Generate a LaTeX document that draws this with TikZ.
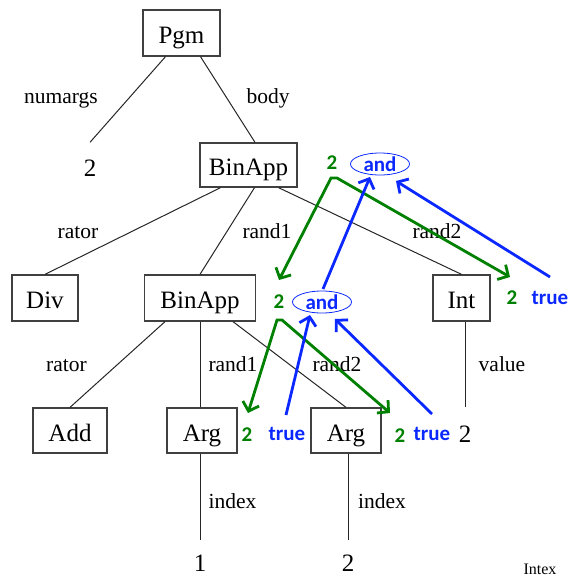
\documentclass[tikz,border=0pt]{standalone}
\usepackage{fontspec}
\setmainfont{Liberation Serif}
\newfontfamily\calfont{Carlito}
\usetikzlibrary{arrows.meta,shapes.geometric,calc}
\definecolor{ggreen}{RGB}{0,128,0}
\definecolor{bblue}{RGB}{10,40,255}
\begin{document}
\begin{tikzpicture}[x=1pt,y=-1pt,
  box/.style={draw=black!75, line width=1.3pt, font=\fontsize{25}{30}\selectfont, minimum height=45pt, inner sep=0pt, text height=21pt, text depth=0pt},
  lbl/.style={font=\fontsize{21.5}{26}\selectfont, inner sep=0pt, anchor=base},
  leaf/.style={font=\fontsize{25}{30}\selectfont, inner sep=0pt, text height=17pt, text depth=0pt},
  edge/.style={draw=black!85, line width=1pt},
  gtxt/.style={text=ggreen, font=\calfont\bfseries\fontsize{21}{25}\selectfont, inner sep=0pt},
  btxt/.style={text=bblue, font=\calfont\bfseries\fontsize{21}{25}\selectfont, inner sep=0pt},
  andnode/.style={btxt, ellipse, draw=bblue, line width=0.8pt, minimum width=59pt, minimum height=22pt},
  garrow/.style={draw=ggreen, line width=2.8pt, arrows={Straight Barb[length=8pt,width=17pt]-Straight Barb[length=8pt,width=17pt]}},
  barrow/.style={draw=bblue, line width=2.8pt, arrows={-Straight Barb[length=8pt,width=17pt]}}
]
\useasboundingbox (0,0) rectangle (568,576);

% boxes
\node[box, minimum width=77pt, minimum height=46pt] (pgm) at (181.5,33) {Pgm};
\node[box, minimum width=97pt, minimum height=44pt] (bin1) at (248.5,165) {BinApp};
\node[box, minimum width=66pt, minimum height=46pt] (div) at (45,298) {Div};
\node[box, minimum width=111pt, minimum height=46pt] (bin2) at (200,298) {BinApp};
\node[box, minimum width=57pt, minimum height=46pt] (int) at (461.5,298) {Int};
\node[box, minimum width=74pt] (add) at (70,430.5) {Add};
\node[box, minimum width=70pt] (arg1) at (202,430.5) {Arg};
\node[box, minimum width=70pt] (arg2) at (346,430.5) {Arg};

% leaves
\node[leaf] (n2) at (90,168) {2};
\node[leaf] (v2) at (465,434) {2};
\node[leaf] (i1) at (200,563) {1};
\node[leaf] (i2) at (348,563) {2};

% tree edges
\draw[edge] ($(pgm.south)+(-16,0)$) -- ($(n2.north)+(0,-17)$);
\draw[edge] ($(pgm.south)+(19,0)$) -- ($(bin1.north)+(6.5,0)$);
\draw[edge] ($(bin1.south)+(-28,0)$) -- (div.north);
\draw[edge] ($(bin1.south)+(6,0)$) -- (bin2.north);
\draw[edge] ($(bin1.south)+(30,0)$) -- (int.north);
\draw[edge] ($(bin2.south)+(-35,0)$) -- (add.north);
\draw[edge] (bin2.south) -- (bin2.south |- arg1.north);
\draw[edge] ($(bin2.south)+(33,0)$) -- (arg2.north);
\draw[edge] (v2.north |- int.south) -- ($(v2.north)+(0,-18)$);
\draw[edge] (i1.north |- arg1.south) -- ($(i1.north)+(0,-14.5)$);
\draw[edge] (i2.north |- arg2.south) -- ($(i2.north)+(0,-14.5)$);

% edge labels
\node[lbl] (l1) at (61,103) {numargs};
\node[lbl] (l2) at (268,103) {body};
\node[lbl] (l3) at (78,238) {rator};
\node[lbl] (l4) at (267,238) {rand1};
\node[lbl] (l5) at (437,238) {rand2};
\node[lbl] (l6) at (66.5,371) {rator};
\node[lbl] (l7) at (233,371) {rand1};
\node[lbl] (l8) at (337,371) {rand2};
\node[lbl] (l9) at (502,371) {value};
\node[lbl] (l10) at (232.5,508) {index};
\node[lbl] (l11) at (382,508) {index};

% annotations
\node[gtxt] (g1) at (332,163) {2};
\node[andnode] (and1) at (380,164) {and};
\node[gtxt] (g2) at (279,302) {2};
\node[andnode] (and2) at (322,302) {and};
\node[gtxt] (g3) at (512,298) {2};
\node[btxt] (t3) at (550,298) {true};
\node[gtxt] (g4) at (247,435) {2};
\node[btxt] (t4) at (287,434) {true};
\node[gtxt] (g5) at (400,436) {2};
\node[btxt] (t5) at (432,434) {true};

\draw[garrow] ($(g2)+(0,-22)$) -- ($(g1)+(-1,15)$) -- ($(g1)+(5,15)$) -- ($(g3)+(-2,-21)$);
\draw[garrow] ($(g4)+(1,-22)$) -- ($(g2)+(-2,18)$) -- ($(g2)+(3,18)$) -- ($(g5)+(-10,-23)$);

\draw[barrow] ($(and2)+(1,-13)$) -- ($(and1)+(-10,13)$);
\draw[barrow] ($(t3)+(0,-21)$) -- ($(and1)+(16,17)$);
\draw[barrow] ($(t4)+(-1,-19)$) -- ($(and2)+(-12,13)$);
\draw[barrow] ($(t5)+(0,-20)$) -- ($(and2)+(13,17)$);

\node[font=\fontsize{16}{19}\selectfont, anchor=base, inner sep=0pt] (intex) at (540,574) {Intex};
\end{tikzpicture}
\end{document}
